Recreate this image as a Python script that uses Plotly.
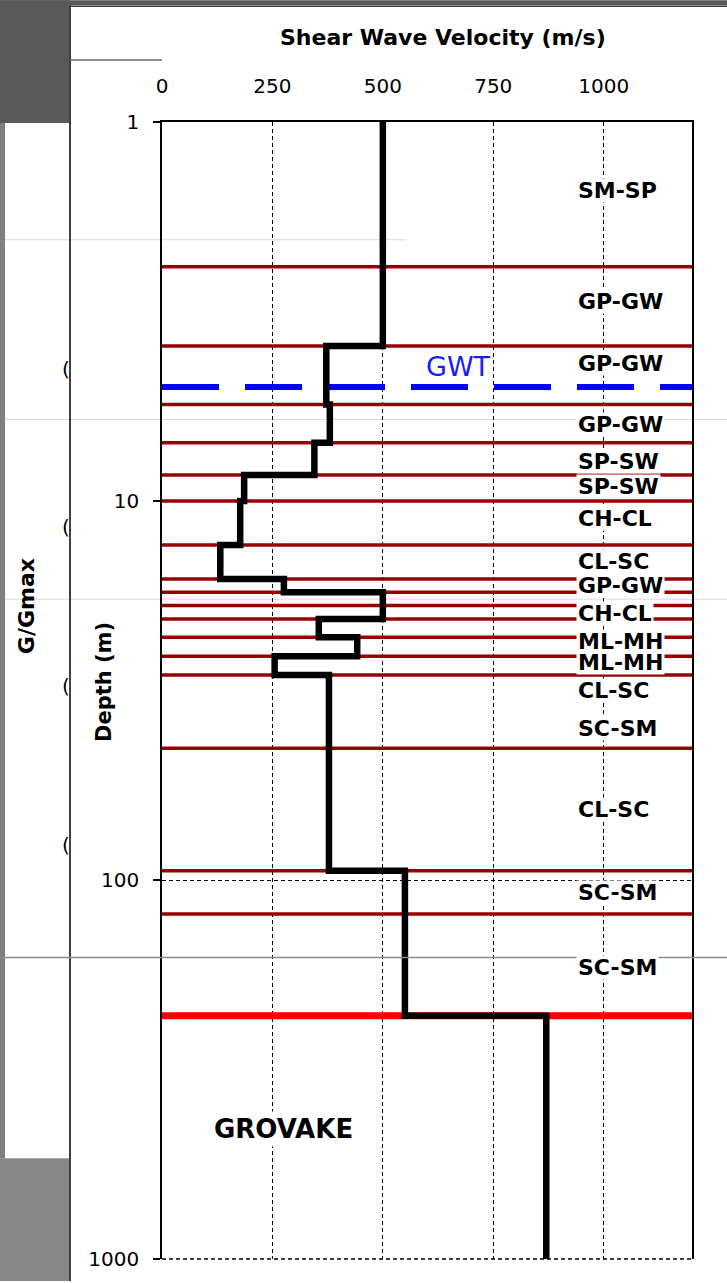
import numpy as np
import plotly.graph_objects as go

# ---------------- data ----------------
layer_top_depth = [1, 3.9, 5.56, 7.02, 8.54, 10.0, 13.06, 16.06, 17.41, 20.47, 22.88, 25.67, 28.76, 94.5, 228]
profile_bottom_depth = 1000
vs_values = [500, 372, 380, 345, 186, 177, 132, 276, 500, 355, 442, 255, 378, 550, 870]

boundary_depths = [2.41, 3.90, 5.56, 7.02, 8.54, 10.0, 13.06, 16.06, 17.41, 18.88,
                   20.47, 22.88, 25.67, 28.76, 44.9, 94.5, 123]
bedrock_depth = 228
gwt_depth = 5.0

soil_labels = ["SM-SP", "GP-GW", "GP-GW", "GP-GW", "SP-SW", "SP-SW", "CH-CL", "CL-SC",
               "GP-GW", "CH-CL", "ML-MH", "ML-MH", "CL-SC", "SC-SM", "CL-SC", "SC-SM", "SC-SM"]
soil_label_depths = [1.52, 2.97, 4.33, 6.30, 7.85, 9.17, 11.09, 14.48,
                     16.66, 19.86, 23.5, 26.7, 31.7, 39.9, 65.3, 107.8, 170.3]
rock_label = "GROVAKE"
rock_label_depth = 455
rock_label_vs = 274
gwt_label = "GWT"
gwt_label_vs = 672
gwt_label_depth = 4.43

x_ticks = [0, 250, 500, 750, 1000]
y_ticks = [1, 10, 100, 1000]
x_range = [0, 1200]

# ---------------- geometry helpers (pixel -> paper) ----------------
W, H = 727, 1283
L, R, T, B = 162, 692, 122, 1261


def px(x):
    return (x - L) / (R - L)


def py(y):
    return (B - y) / (B - T)


FONT = "DejaVu Sans"

fig = go.Figure()

# layer boundaries (dark red)
bx, by = [], []
for d in boundary_depths:
    bx += [x_range[0], x_range[1], None]
    by += [d, d, None]
fig.add_trace(go.Scatter(x=bx, y=by, mode="lines", line=dict(color="#9a0000", width=3.5),
                         hoverinfo="skip", showlegend=False))

# bedrock boundary (bright red)
fig.add_trace(go.Scatter(x=x_range, y=[bedrock_depth, bedrock_depth], mode="lines",
                         line=dict(color="#ff0000", width=7), hoverinfo="skip", showlegend=False))

# ground water table
fig.add_trace(go.Scatter(x=x_range, y=[gwt_depth, gwt_depth], mode="lines",
                         line=dict(color="#0000ff", width=6, dash="57px,26px"),
                         hoverinfo="skip", showlegend=False))

# shear wave velocity step profile
vx, vy = [], []
bottoms = layer_top_depth[1:] + [profile_bottom_depth]
for top, bot, v in zip(layer_top_depth, bottoms, vs_values):
    vx += [v, v]
    vy += [top, bot]
fig.add_trace(go.Scatter(x=vx, y=vy, mode="lines", line=dict(color="black", width=6.5),
                         hoverinfo="skip", showlegend=False))

annotations = []
for text, d in zip(soil_labels, soil_label_depths):
    annotations.append(dict(x=938, y=np.log10(d), xref="x", yref="y", text=f"<b>{text}</b>",
                            showarrow=False, xanchor="left", yanchor="middle",
                            font=dict(family=FONT, size=22, color="black"),
                            bgcolor="white", borderpad=1, height=21))
annotations.append(dict(x=rock_label_vs, y=np.log10(rock_label_depth), xref="x", yref="y",
                        text=f"<b>{rock_label}</b>", showarrow=False, xanchor="center",
                        yanchor="middle", font=dict(family=FONT, size=26, color="black"),
                        bgcolor="white", borderpad=2))
annotations.append(dict(x=gwt_label_vs, y=np.log10(gwt_label_depth), xref="x", yref="y",
                        text=gwt_label, showarrow=False, xanchor="center", yanchor="middle",
                        font=dict(family=FONT, size=27, color="#1a1aff")))
# titles
annotations.append(dict(x=px(443), y=py(37), xref="paper", yref="paper",
                        text="<b>Shear Wave Velocity (m/s)</b>", showarrow=False,
                        xanchor="center", yanchor="middle",
                        font=dict(family=FONT, size=22, color="black")))
annotations.append(dict(x=px(104), y=py(683), xref="paper", yref="paper",
                        text="<b>Depth (m)</b>", showarrow=False, textangle=-90,
                        xanchor="center", yanchor="middle",
                        font=dict(family=FONT, size=21, color="black")))
annotations.append(dict(x=px(26), y=py(607), xref="paper", yref="paper",
                        text="<b>G/Gmax</b>", showarrow=False, textangle=-90,
                        xanchor="center", yanchor="middle",
                        font=dict(family=FONT, size=22, color="black")))
# cut-off tick labels of the panel behind
for yy in [369, 528, 687, 846]:
    annotations.append(dict(x=px(66), y=py(yy), xref="paper", yref="paper", text="(",
                            showarrow=False, xanchor="center", yanchor="middle",
                            font=dict(family=FONT, size=20, color="black")))

shapes = [
    # dark gray top-left background
    dict(type="rect", xref="paper", yref="paper", x0=px(0), x1=px(70), y0=py(0), y1=py(123),
         fillcolor="#595959", line=dict(width=0), layer="below"),
    dict(type="rect", xref="paper", yref="paper", x0=px(0), x1=px(W), y0=py(0), y1=py(5),
         fillcolor="#595959", line=dict(width=0), layer="below"),
    # left gray border and lower gray block
    dict(type="rect", xref="paper", yref="paper", x0=px(0), x1=px(5), y0=py(123), y1=py(1160),
         fillcolor="#7f7f7f", line=dict(width=0), layer="below"),
    dict(type="rect", xref="paper", yref="paper", x0=px(0), x1=px(69), y0=py(1160), y1=py(H),
         fillcolor="#878787", line=dict(width=0), layer="below"),
    # faint background lines
    dict(type="line", xref="paper", yref="paper", x0=px(5), x1=px(405), y0=py(240), y1=py(240),
         line=dict(color="#d9d9d9", width=1), layer="below"),
    dict(type="line", xref="paper", yref="paper", x0=px(5), x1=px(W), y0=py(420), y1=py(420),
         line=dict(color="#d9d9d9", width=1), layer="below"),
    dict(type="line", xref="paper", yref="paper", x0=px(5), x1=px(W), y0=py(600), y1=py(600),
         line=dict(color="#d9d9d9", width=1), layer="below"),
    # panel edges
    dict(type="line", xref="paper", yref="paper", x0=px(70), x1=px(70), y0=py(5), y1=py(H),
         line=dict(color="#404040", width=2), layer="above"),
    dict(type="line", xref="paper", yref="paper", x0=px(70), x1=px(W), y0=py(6), y1=py(6),
         line=dict(color="#404040", width=1.5), layer="above"),
    dict(type="line", xref="paper", yref="paper", x0=px(70), x1=px(162), y0=py(60), y1=py(60),
         line=dict(color="#666666", width=1.5), layer="above"),
    dict(type="line", xref="paper", yref="paper", x0=px(0), x1=px(W), y0=py(959), y1=py(959),
         line=dict(color="#8c8c8c", width=1.5), layer="above"),
    # dashed bottom edge of the plot (gridline at the deepest tick)
    dict(type="line", xref="paper", yref="paper", x0=0, x1=1, y0=0, y1=0,
         line=dict(color="black", width=1.5, dash="4px,3px"), layer="above"),
]

fig.update_layout(
    width=W, height=H,
    margin=dict(l=L, r=W - R, t=T, b=H - B),
    paper_bgcolor="white",
    plot_bgcolor="rgba(0,0,0,0)",
    showlegend=False,
    annotations=annotations,
    shapes=shapes,
    font=dict(family=FONT, color="black"),
)
fig.update_xaxes(
    side="top", range=x_range, tickvals=x_ticks, ticks="", ticklabelstandoff=19,
    tickfont=dict(family=FONT, size=20, color="black"),
    showline=True, linecolor="black", linewidth=1.5, mirror=False,
    showgrid=True, gridcolor="black", gridwidth=1, griddash="4px,3px", zeroline=False,
)
fig.update_yaxes(
    type="log", range=[3, 0], tickvals=y_ticks, ticktext=[str(v) for v in y_ticks],
    ticks="outside", ticklen=7, tickwidth=1.5, tickcolor="black", ticklabelstandoff=10,
    tickfont=dict(family=FONT, size=20, color="black"),
    showline=True, linecolor="black", linewidth=1.5, mirror=True,
    showgrid=True, gridcolor="black", gridwidth=1, griddash="4px,3px", zeroline=False,
)

fig.write_html("out.html", config={"displayModeBar": False},
               post_script="document.body.style.margin='0px';document.body.style.overflow='hidden';")
